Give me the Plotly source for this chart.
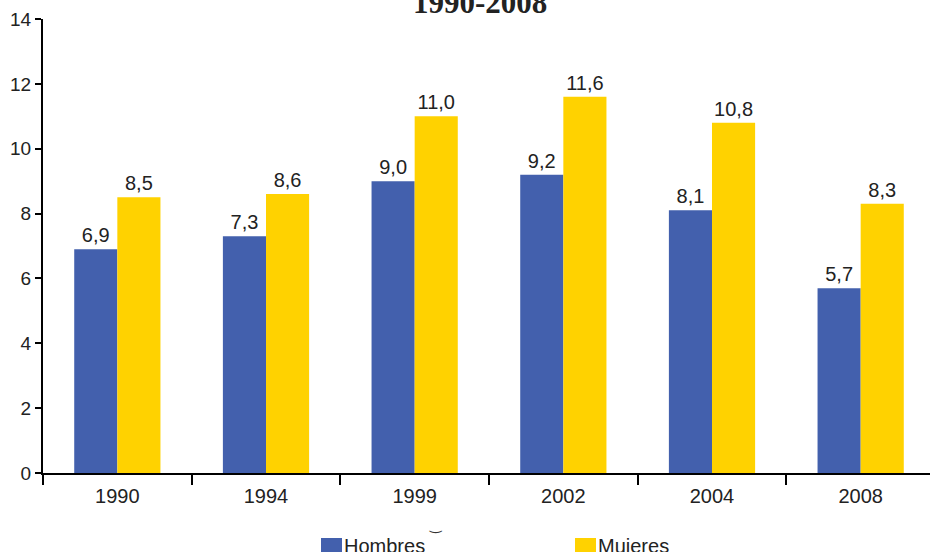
import plotly.graph_objects as go

years = ["1990", "1994", "1999", "2002", "2004", "2008"]
hombres = [6.9, 7.3, 9.0, 9.2, 8.1, 5.7]
mujeres = [8.5, 8.6, 11.0, 11.6, 10.8, 8.3]
series_names = ["Hombres", "Mujeres"]
colors = ["#4360ad", "#ffd200"]
title_text = "1990-2008"
y_ticks = [0, 2, 4, 6, 8, 10, 12, 14]

W, H = 930, 552
L, T, B, R = 43, 19, 79, 0
pw = W - L - R
ph = H - T - B

def px2x(px):
    return (px - L) / pw

def py2y(py):
    return (H - B - py) / ph

def fmt(v):
    return f"{v:.1f}".replace(".", ",")

fig = go.Figure()
for name, vals, col in zip(series_names, [hombres, mujeres], colors):
    fig.add_trace(go.Bar(
        x=years, y=vals, name=name, marker=dict(color=col, line=dict(width=0)),
        text=[fmt(v) for v in vals], textposition="outside",
        textfont=dict(family="Liberation Sans", size=20, color="#222"),
        cliponaxis=False,
    ))

fig.update_layout(
    width=W, height=H, margin=dict(l=L, r=R, t=T, b=B, autoexpand=False),
    paper_bgcolor="white", plot_bgcolor="white",
    barmode="group", bargap=0.42, bargroupgap=0,
    showlegend=False,
    font=dict(family="Liberation Sans", color="#222"),
    xaxis=dict(
        type="category", range=[-0.5, 5.5 - 5 / 148.7], automargin=False,
        showline=True, linecolor="black", linewidth=2,
        ticks="outside", tickson="boundaries", ticklen=10, tickwidth=2, tickcolor="black",
        ticklabelstandoff=4,
        tickfont=dict(size=20, color="#222"), showgrid=False, zeroline=False,
    ),
    yaxis=dict(
        range=[0, 14], tickvals=y_ticks, ticktext=[str(t) for t in y_ticks], automargin=False,
        showline=True, linecolor="black", linewidth=2,
        ticks="outside", ticklen=6, tickwidth=2, tickcolor="black",
        tickfont=dict(size=19, color="#222"), showgrid=False, zeroline=False,
    ),
)

fig.add_annotation(
    text=f"<b>{title_text}</b>", xref="paper", yref="paper",
    x=px2x(480), y=py2y(3), xanchor="center", yanchor="middle",
    showarrow=False, font=dict(family="Liberation Serif", size=31, color="#222"),
)

# legend (manual, partially cut off at the bottom like the reference)
leg_x = [321, 575]
for name, col, lx in zip(series_names, colors, leg_x):
    fig.add_shape(type="rect", xref="paper", yref="paper",
                  x0=px2x(lx), x1=px2x(lx + 21), y0=py2y(560), y1=py2y(538),
                  fillcolor=col, line=dict(width=0))
    fig.add_annotation(text=name, xref="paper", yref="paper",
                       x=px2x(lx + 21), y=py2y(533), xanchor="left", yanchor="top",
                       showarrow=False, font=dict(family="Liberation Sans", size=20, color="#222"))

fig.add_annotation(text="‿", xref="paper", yref="paper", x=px2x(435), y=py2y(525),
                   xanchor="center", yanchor="middle", showarrow=False,
                   font=dict(family="DejaVu Sans", size=14, color="#333"))

fig.write_html("out.html", config={"displayModeBar": False},
               post_script="document.body.style.margin='0';document.body.style.overflow='hidden';")
